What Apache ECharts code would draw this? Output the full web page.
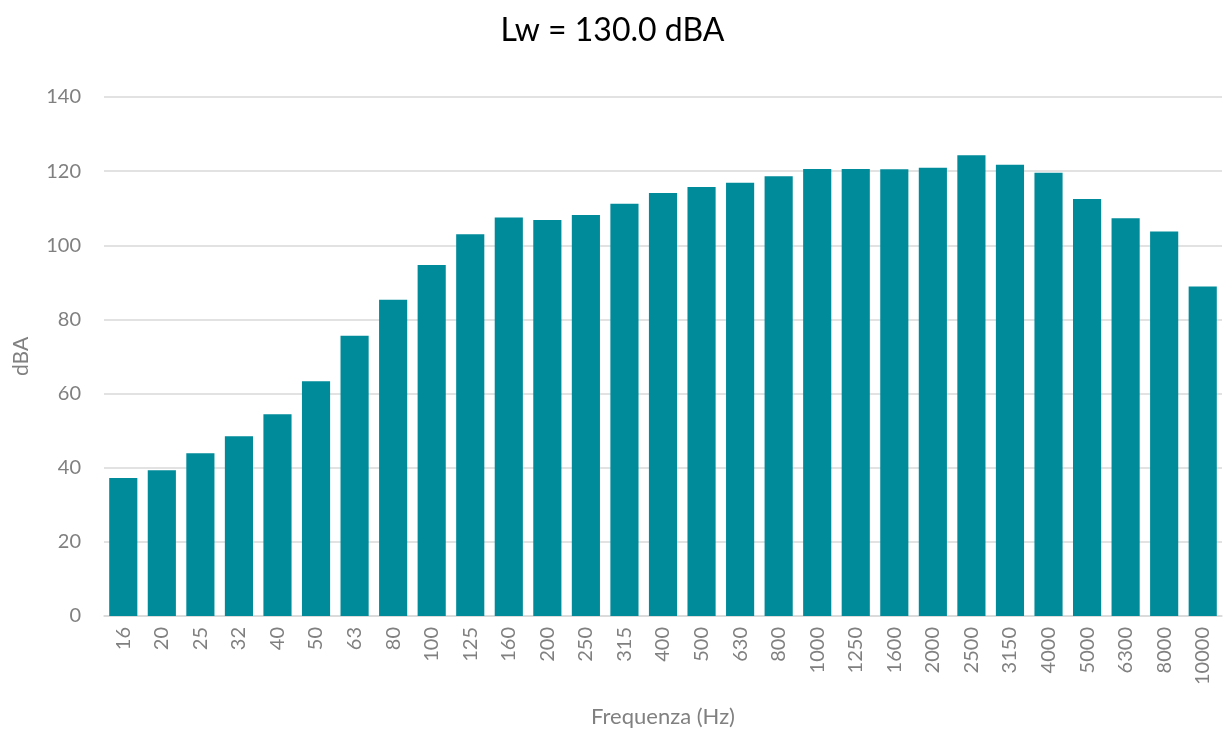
<!DOCTYPE html>
<html>
<head>
<meta charset="utf-8">
<script src="https://cdn.jsdelivr.net/npm/echarts@6/dist/echarts.min.js"></script>
<style>html,body{margin:0;padding:0;background:#fff;}#c{width:1225px;height:733px;}</style>
</head>
<body>
<div id="c"></div>
<script>
const titleText = 'Lw = 130.0 dBA';
const categories = ['16','20','25','32','40','50','63','80','100','125','160','200','250','315','400','500','630','800','1000','1250','1600','2000','2500','3150','4000','5000','6300','8000','10000'];
const values = [37.2,39.3,43.9,48.5,54.4,63.3,75.6,85.3,94.7,103.0,107.5,106.8,108.2,111.2,114.1,115.7,116.9,118.6,120.6,120.6,120.5,120.9,124.3,121.7,119.6,112.5,107.3,103.7,88.9];
const yTicks = {min:0, max:140, interval:20};

const font = 'Lato, "Open Sans", sans-serif';
const chart = echarts.init(document.getElementById('c'), null, {renderer:'canvas'});
chart.setOption({
  animation:false,
  title:{text:titleText,left:'center',top:10,textStyle:{fontFamily:font,fontSize:32,fontWeight:'normal',color:'#000'}},
  grid:{left:104,right:3,top:97,bottom:116,containLabel:false},
  xAxis:{type:'category',data:categories,
    name:'Frequenza (Hz)',nameLocation:'middle',nameGap:90,
    nameTextStyle:{fontFamily:font,fontSize:22,color:'#808080'},
    axisLine:{lineStyle:{color:'#d9d9d9',width:1.5}},axisTick:{show:false},
    axisLabel:{rotate:90,fontFamily:font,fontSize:20,color:'#808080',margin:11}},
  yAxis:{type:'value',min:yTicks.min,max:yTicks.max,interval:yTicks.interval,
    name:'dBA',nameLocation:'middle',nameGap:72,
    nameTextStyle:{fontFamily:font,fontSize:21,color:'#808080'},
    axisLine:{show:false},axisTick:{show:false},
    axisLabel:{fontFamily:font,fontSize:20,color:'#808080',margin:23},
    splitLine:{lineStyle:{color:'#d9d9d9',width:1.5}}},
  series:[{type:'bar',data:values,barCategoryGap:'27%',
    itemStyle:{color:'#008b9a'}}]
});
</script>
</body>
</html>
